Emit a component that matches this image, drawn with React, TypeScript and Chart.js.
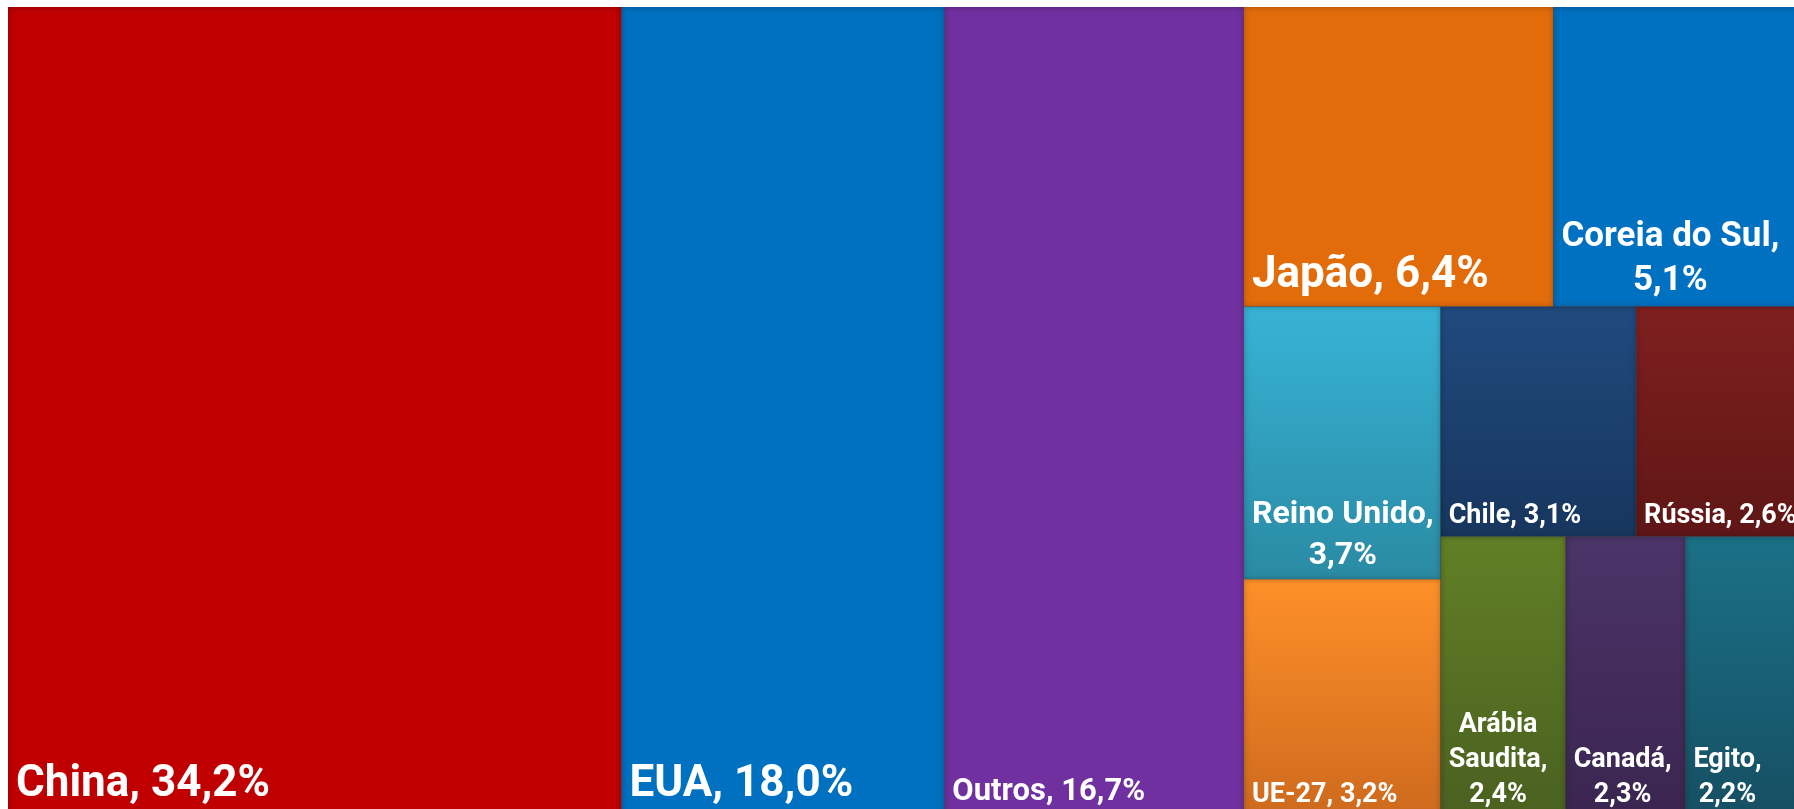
import React, { useEffect, useRef } from "react";
import { Chart, registerables } from "chart.js";

Chart.register(...registerables);

// ---- data ----
const countries = [
  "China",
  "EUA",
  "Outros",
  "Japão",
  "Coreia do Sul",
  "Reino Unido",
  "UE-27",
  "Chile",
  "Rússia",
  "Arábia Saudita",
  "Canadá",
  "Egito",
];
const shares = [34.2, 18.0, 16.7, 6.4, 5.1, 3.7, 3.2, 3.1, 2.6, 2.4, 2.3, 2.2];

// ---- styles ----
const topColors = [
  "#C00000", "#0070C0", "#7030A0", "#E36C0A", "#0070C0", "#37B3D6",
  "#FF9029", "#204A7E", "#7F1F1F", "#617F26", "#4B3468", "#1B7087",
];
const bottomColors = [
  "#C00000", "#0070C0", "#7030A0", "#E36C0A", "#0070C0", "#2A8AA3",
  "#CE6A1E", "#17365E", "#5F1616", "#4A6120", "#3B2550", "#164F63",
];
const fontSizes = [44, 44, 31, 44, 35, 32, 27, 27, 27, 27, 27, 27];

// layout structure (which tiles are grouped): "h" = side by side, "v" = stacked
type Node = number | { dir: "h" | "v"; items: Node[] };
const layoutTree: Node = {
  dir: "h",
  items: [
    0,
    1,
    2,
    {
      dir: "v",
      items: [
        { dir: "h", items: [3, 4] },
        {
          dir: "h",
          items: [
            { dir: "v", items: [5, 6] },
            {
              dir: "v",
              items: [
                { dir: "h", items: [7, 8] },
                { dir: "h", items: [9, 10, 11] },
              ],
            },
          ],
        },
      ],
    },
  ],
};

const total = shares.reduce((a, b) => a + b, 0);

type Rect = { x0: number; x1: number; y0: number; y1: number };

function nodeSum(n: Node): number {
  if (typeof n === "number") return shares[n];
  return n.items.reduce((s, c) => s + nodeSum(c), 0);
}

function layout(n: Node, r: Rect, out: Rect[]) {
  if (typeof n === "number") {
    out[n] = r;
    return;
  }
  const s = nodeSum(n);
  let acc = 0;
  n.items.forEach((c) => {
    const f0 = acc / s;
    acc += nodeSum(c);
    const f1 = acc / s;
    if (n.dir === "h") {
      layout(c, { x0: r.x0 + (r.x1 - r.x0) * f0, x1: r.x0 + (r.x1 - r.x0) * f1, y0: r.y0, y1: r.y1 }, out);
    } else {
      layout(c, { x0: r.x0, x1: r.x1, y0: r.y0 + (r.y1 - r.y0) * f0, y1: r.y0 + (r.y1 - r.y0) * f1 }, out);
    }
  });
}

const tiles: Rect[] = [];
layout(layoutTree, { x0: 0, x1: total, y0: 0, y1: 1 }, tiles);

const fmt = (v: number) => v.toFixed(1).replace(".", ",") + "%";

const treemapPlugin = {
  id: "treemapTiles",
  beforeDatasetsDraw(chart: any) {
    const ctx: CanvasRenderingContext2D = chart.ctx;
    const xs = chart.scales.x;
    const ys = chart.scales.y;
    const cw = chart.width;
    tiles.forEach((t, i) => {
      const px0 = xs.getPixelForValue(t.x0);
      const px1 = xs.getPixelForValue(t.x1);
      const py0 = ys.getPixelForValue(t.y0);
      const py1 = ys.getPixelForValue(t.y1);
      const w = px1 - px0;
      const h = py1 - py0;
      ctx.save();
      const g = ctx.createLinearGradient(0, py0, 0, py1);
      g.addColorStop(0, topColors[i]);
      g.addColorStop(1, bottomColors[i]);
      ctx.fillStyle = g;
      ctx.fillRect(px0, py0, w, h);
      // subtle inner shadow
      ctx.beginPath();
      ctx.rect(px0, py0, w, h);
      ctx.clip();
      ctx.shadowColor = "rgba(0,0,0,0.28)";
      ctx.shadowBlur = 6;
      ctx.beginPath();
      ctx.rect(px0 - 60, py0 - 60, w + 120, h + 120);
      ctx.rect(px0, py0, w, h);
      ctx.fillStyle = "#000";
      ctx.fill("evenodd");
      ctx.restore();
    });
    // labels
    tiles.forEach((t, i) => {
      const px0 = xs.getPixelForValue(t.x0);
      const px1 = Math.min(xs.getPixelForValue(t.x1), cw);
      const py1 = ys.getPixelForValue(t.y1);
      const fs = fontSizes[i];
      ctx.save();
      ctx.font = `bold ${fs}px Roboto`;
      ctx.fillStyle = "#FFFFFF";
      const words = `${countries[i]}, ${fmt(shares[i])}`.split(" ");
      const avail = px1 - px0 - 10;
      const lines: string[] = [];
      let cur = "";
      words.forEach((wd) => {
        const test = cur ? cur + " " + wd : wd;
        if (cur && ctx.measureText(test).width > avail) {
          lines.push(cur);
          cur = wd;
        } else cur = test;
      });
      if (cur) lines.push(cur);
      const widths = lines.map((l) => ctx.measureText(l).width);
      const blockW = Math.max(...widths);
      const left = px0 + 8;
      const lh = fs * 1.28;
      const lastBase = py1 - (4 + 0.35 * fs);
      ctx.textBaseline = "alphabetic";
      ctx.textAlign = "left";
      lines.forEach((l, k) => {
        const y = lastBase - (lines.length - 1 - k) * lh;
        const x = left + (blockW - widths[k]) / 2;
        ctx.fillText(l, x, y);
      });
      ctx.restore();
    });
  },
};

export default function App() {
  const ref = useRef<HTMLCanvasElement | null>(null);
  useEffect(() => {
    if (!ref.current) return;
    const chart = new Chart(ref.current, {
      type: "scatter",
      data: {
        datasets: [
          {
            data: tiles.map((t) => ({ x: (t.x0 + t.x1) / 2, y: (t.y0 + t.y1) / 2 })),
            pointRadius: 0,
            pointHoverRadius: 0,
          },
        ],
      },
      options: {
        responsive: false,
        animation: false,
        events: [],
        layout: { padding: 0 },
        plugins: { legend: { display: false }, tooltip: { enabled: false } },
        scales: {
          x: { type: "linear", display: false, min: 0, max: total },
          y: { type: "linear", display: false, min: 0, max: 1, reverse: true },
        },
      },
      plugins: [treemapPlugin],
    });
    if ((document as any).fonts && (document as any).fonts.load) {
      (document as any).fonts.load("bold 44px Roboto").then(() => chart.update()).catch(() => {});
    }
    return () => chart.destroy();
  }, []);
  return (
    <div style={{ position: "fixed", left: 8, top: 7, width: 1792, height: 808, overflow: "hidden" }}>
      <canvas ref={ref} width={1792} height={808} style={{ display: "block" }} />
    </div>
  );
}
